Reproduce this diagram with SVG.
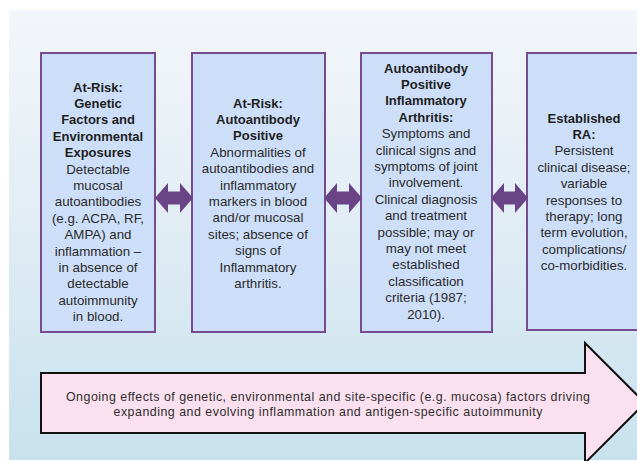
<svg xmlns="http://www.w3.org/2000/svg" width="637" height="461" viewBox="0 0 637 461">
  <defs>
    <linearGradient id="panelFill" x1="0" y1="0" x2="0" y2="1">
      <stop offset="0" stop-color="#f3f6fa"/>
      <stop offset="0.5" stop-color="#e0ecf4"/>
      <stop offset="1" stop-color="#c7e2ee"/>
    </linearGradient>
    <style>
      .stage { fill: #cddff8; stroke: #774b90; stroke-width: 2; }
      .link { fill: #6b4487; }
      .title { font-family: "Liberation Sans", Arial, sans-serif; font-size: 13px; font-weight: bold; fill: #1e1e1e; text-anchor: middle; }
      .body { font-family: "Liberation Sans", Arial, sans-serif; font-size: 13.3px; fill: #2a2a2a; text-anchor: middle; }
      .flow { fill: #fbe1f0; stroke: #111111; stroke-width: 2; stroke-linejoin: miter; }
      .flowText { font-family: "Liberation Sans", Arial, sans-serif; font-size: 12.4px; fill: #2e2e2e; text-anchor: middle; }
    </style>
  </defs>

  <!-- page background -->
  <rect x="0" y="0" width="637" height="461" fill="#ffffff"/>
  <rect x="9" y="10" width="628" height="450" fill="url(#panelFill)"/>

  <!-- stage 1 -->
  <g id="stage-genetic">
    <rect class="stage" x="41" y="53" width="114" height="279"/>
    <text class="title" x="98" y="91.5">At-Risk:</text>
    <text class="title" x="98" y="107.9">Genetic</text>
    <text class="title" x="98" y="124.3">Factors and</text>
    <text class="title" x="98" y="140.7">Environmental</text>
    <text class="title" x="98" y="157.1">Exposures</text>
    <text class="body" x="98" y="173.5">Detectable</text>
    <text class="body" x="98" y="189.9">mucosal</text>
    <text class="body" x="98" y="206.3">autoantibodies</text>
    <text class="body" x="98" y="222.7">(e.g. ACPA, RF,</text>
    <text class="body" x="98" y="239.1">AMPA) and</text>
    <text class="body" x="98" y="255.5">inflammation –</text>
    <text class="body" x="98" y="271.9">in absence of</text>
    <text class="body" x="98" y="288.3">detectable</text>
    <text class="body" x="98" y="304.7">autoimmunity</text>
    <text class="body" x="98" y="321.1">in blood.</text>
  </g>

  <!-- stage 2 -->
  <g id="stage-autoantibody">
    <rect class="stage" x="192" y="53" width="133" height="279"/>
    <text class="title" x="258" y="107.5">At-Risk:</text>
    <text class="title" x="258" y="123.9">Autoantibody</text>
    <text class="title" x="258" y="140.3">Positive</text>
    <text class="body" x="258" y="156.7">Abnormalities of</text>
    <text class="body" x="258" y="173.1">autoantibodies and</text>
    <text class="body" x="258" y="189.5">inflammatory</text>
    <text class="body" x="258" y="205.9">markers in blood</text>
    <text class="body" x="258" y="222.3">and/or mucosal</text>
    <text class="body" x="258" y="238.7">sites; absence of</text>
    <text class="body" x="258" y="255.1">signs of</text>
    <text class="body" x="258" y="271.5">Inflammatory</text>
    <text class="body" x="258" y="287.9">arthritis.</text>
  </g>

  <!-- stage 3 -->
  <g id="stage-arthritis">
    <rect class="stage" x="361" y="53" width="131" height="279"/>
    <text class="title" x="426" y="72.5">Autoantibody</text>
    <text class="title" x="426" y="88.9">Positive</text>
    <text class="title" x="426" y="105.3">Inflammatory</text>
    <text class="title" x="426" y="121.7">Arthritis:</text>
    <text class="body" x="426" y="138.1">Symptoms and</text>
    <text class="body" x="426" y="154.5">clinical signs and</text>
    <text class="body" x="426" y="170.9">symptoms of joint</text>
    <text class="body" x="426" y="187.3">involvement.</text>
    <text class="body" x="426" y="203.7">Clinical diagnosis</text>
    <text class="body" x="426" y="220.1">and treatment</text>
    <text class="body" x="426" y="236.5">possible; may or</text>
    <text class="body" x="426" y="252.9">may not meet</text>
    <text class="body" x="426" y="269.3">established</text>
    <text class="body" x="426" y="285.7">classification</text>
    <text class="body" x="426" y="302.1">criteria (1987;</text>
    <text class="body" x="426" y="318.5">2010).</text>
  </g>

  <!-- stage 4 -->
  <g id="stage-established">
    <rect class="stage" x="527" y="53" width="118" height="277"/>
    <text class="title" x="584" y="122.5">Established</text>
    <text class="title" x="584" y="138.9">RA:</text>
    <text class="body" x="584" y="155.3">Persistent</text>
    <text class="body" x="584" y="171.7">clinical disease;</text>
    <text class="body" x="584" y="188.1">variable</text>
    <text class="body" x="584" y="204.5">responses to</text>
    <text class="body" x="584" y="220.9">therapy; long</text>
    <text class="body" x="584" y="237.3">term evolution,</text>
    <text class="body" x="584" y="253.7">complications/</text>
    <text class="body" x="584" y="270.1">co-morbidities.</text>
  </g>

  <!-- two-way links between stages -->
  <g id="connectors">
    <path class="link" d="M155,198 L168,183 L168,191.5 L180,191.5 L180,183 L193,198 L180,213 L180,204.5 L168,204.5 L168,213 Z"/>
    <path class="link" d="M324,198 L337,183 L337,191.5 L349,191.5 L349,183 L362,198 L349,213 L349,204.5 L337,204.5 L337,213 Z"/>
    <path class="link" d="M491,198 L504,183 L504,191.5 L515,191.5 L515,183 L528,198 L515,213 L515,204.5 L504,204.5 L504,213 Z"/>
  </g>

  <!-- ongoing-effects arrow -->
  <g id="ongoing-effects">
    <path class="flow" d="M41,373 L585,373 L585,343 L645,403 L585,463 L585,433 L41,433 Z"/>
    <text class="flowText" x="328" y="401" textLength="524" lengthAdjust="spacing">Ongoing effects of genetic, environmental  and site-specific (e.g. mucosa) factors driving</text>
    <text class="flowText" x="328" y="416" textLength="429" lengthAdjust="spacing">expanding and evolving inflammation and antigen-specific autoimmunity</text>
  </g>
</svg>
